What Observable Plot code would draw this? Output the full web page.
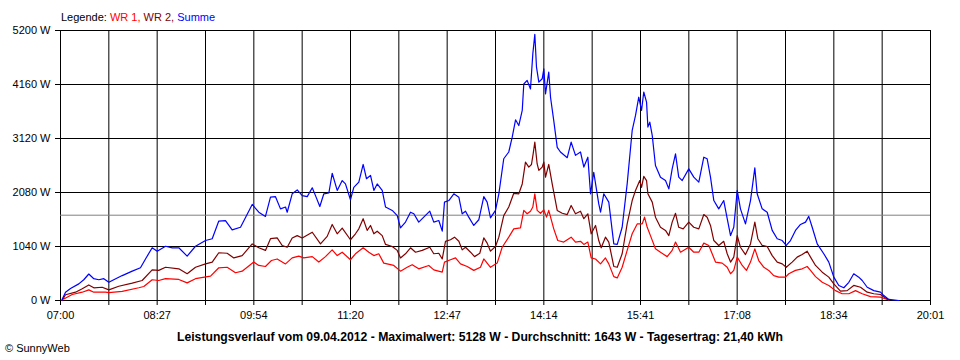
<!DOCTYPE html>
<html>
<head>
<meta charset="utf-8">
<script src="https://cdn.jsdelivr.net/npm/d3@7"></script>
<script src="https://cdn.jsdelivr.net/npm/@observablehq/plot@0.6"></script>
<style>
  body { margin: 0; background: #fff; font-family: "Liberation Sans", Arial, sans-serif; }
  #wrap { position: relative; width: 960px; height: 360px; overflow: hidden; background: #fff; }
  #chart svg { display: block; }
  .txt { position: absolute; font-size: 11px; white-space: nowrap; color: #000; line-height: normal; }
  #legend { left: 61px; top: 10.5px; }
  #caption { left: 0; width: 960px; top: 329.5px; text-align: center; font-weight: bold; font-size: 12.2px; }
  #copy { left: 5px; top: 342px; }
</style>
</head>
<body>
<div id="wrap">
  <div id="chart"></div>
  <div id="legend" class="txt">Legende: <span style="color:#ff0000">WR 1</span><span style="color:#ff0000">,</span> <span style="color:#800000">WR 2,</span> <span style="color:#0000ff">Summe</span></div>
  <div id="caption" class="txt">Leistungsverlauf vom 09.04.2012 - Maximalwert: 5128 W - Durchschnitt: 1643 W - Tagesertrag: 21,40 kWh</div>
  <div id="copy" class="txt">© SunnyWeb</div>
</div>
<script>
// ---- axis / tick data ----
const xTickLabels = ["07:00","08:27","09:54","11:20","12:47","14:14","15:41","17:08","18:34","20:01"];
const yTicks = [0, 1040, 2080, 3120, 4160, 5200];
const avgW = 1643;           // Durchschnitt
const spanMin = 781;         // 07:00 -> 20:01 in minutes
const gridCount = 18;        // vertical grid intervals (labels on every second)

// ---- series: minutes after 07:00, watts ----
const summeMin = [1,4.5,9,16.4,20.9,25.4,29.9,34.4,38.9,43.4,47.8,55.4,64.4,71.8,76.3,82.3,86.8,94.3,100.3,106.2,113.7,121.2,130.2,136.2,142.1,148.1,154.1,161.6,172.1,178,184,188.5,193,197.5,202,203.5,208,212.5,217,221.5,226,228.9,232.8,236.4,240.9,243.9,248.4,252.9,255.8,260.3,263.3,267.8,271.7,274.7,278.3,281.3,284.3,288.8,291.8,297.8,302.3,305.2,309.7,314.2,317.2,321.6,326.1,331.5,335.1,339.6,342.7,344.7,348.6,353.1,357.6,360.6,363.6,366.5,371,375.5,380,383,386,390.5,393.5,397.9,402.4,405.5,408.5,411.4,414.5,415.9,418.9,421.9,424,425.8,427.3,429.4,432.4,433.9,435.4,438.3,439.9,442.8,445.9,448.8,454.9,458.4,462.3,466.8,469.8,473.4,475.8,478.7,483.2,484.8,487.7,492.2,496.7,499.8,504.2,508.7,513.2,516.2,519.1,521.6,523.6,526.1,527.3,529,531.2,534.1,538.6,543.1,546.1,549.1,552.1,555,558.1,564,568.5,573,577.5,580.5,583.5,586.5,590.9,595.4,598.5,601.5,604.4,607.5,610.4,614.9,619.4,623.3,625.4,629.9,634.4,638.9,643.4,647.9,651.5,655.3,659.8,664.3,668.8,671.7,674.8,679.3,685.2,689.7,694.2,698.7,703.2,707.7,712.1,716.6,719.7,724.2,730.1,736.1,739.1,743.6,752.5];
const summeW = [0,160,230,320,400,510,420,400,420,350,400,480,565,630,800,1015,950,1045,1015,1015,855,1045,1155,1190,1530,1540,1360,1410,1850,1700,1620,1990,2000,1765,1800,1700,2055,2130,2020,2000,2170,2020,1810,2055,2070,2450,2120,2310,2245,1940,2180,2280,2620,2345,2410,2120,2245,2120,1800,1735,1635,1400,1510,1700,1670,1510,1605,1720,1510,1540,1335,1895,1925,2055,1990,1670,1720,1605,1445,1555,2000,1895,1590,1735,2055,2730,2860,3145,3480,3370,3660,4170,4240,4075,4750,5128,4495,4205,4270,4460,3980,4400,3915,3465,2950,2860,2750,3050,2795,2860,2570,2760,2055,2470,1860,1700,2055,1895,1090,1080,1410,2245,3275,3565,3915,3660,4015,3820,3340,3435,3180,2600,2375,2310,2150,2535,2825,2375,2310,2535,2375,2280,2760,2730,2375,1925,1765,1925,1575,1250,1410,2120,1765,1475,1925,2555,2055,1765,1700,1350,1190,1155,1060,1155,1350,1465,1510,1620,1410,1090,900,740,450,290,245,350,515,450,385,255,190,160,95,20,0];

const wr2Min = [1.5,4.5,13.5,19.5,25.4,29.9,37.4,43.4,52.3,64.4,73.3,82.3,88.2,94.3,106.2,113.7,121.2,130.2,136.2,142.1,149.6,155.6,163.1,172.1,178,184,188.5,194.5,199,203.5,208,212.5,217,226,233.4,239.4,243.9,248.4,252.9,260.3,264.8,267.8,271.7,275.3,278.3,281.3,284.3,288.8,291.8,297.8,302.3,305.2,309.7,314.2,318.7,324.7,331.5,335.1,339.6,342.7,345.6,350.1,353.7,357.6,360.6,363.6,368.1,371.7,376.4,380,383,386,390.5,393.5,397.9,402.4,406.9,411.4,414.5,417.4,420.4,422.8,424.3,425.8,427.9,429.4,432.4,433.9,435.4,438.3,441.4,445.9,450.4,454.9,458.4,462.3,466.8,469.8,473.4,476.4,480.3,483.2,485.4,489.2,492.2,496.7,499.8,504.2,508.7,513.2,516.2,520,521.6,523.6,526.1,527.3,531.2,534.1,538.6,543.1,546.1,549.1,552.1,555,559,564,568.5,573,577.5,580.5,583.5,586.5,590.9,595.4,598.5,601.5,604.4,607.5,610.4,614.9,619.4,623.3,626,629.9,634.4,638.9,643.4,647.9,651.5,656.8,661.3,665.8,670.3,673.3,677.8,683.8,689.7,694.2,700.2,706.2,712.1,718.2,724.2,730.1,736.1,740.6,743.6];
const wr2W = [0,110,160,225,300,245,255,205,275,335,385,590,580,640,610,515,640,705,740,920,910,820,865,1090,1015,965,1190,1205,1060,1025,1205,1250,1205,1315,1090,1235,1465,1285,1395,1170,1285,1380,1575,1350,1445,1285,1335,1250,1080,1040,965,820,900,1015,930,965,1025,900,910,800,1140,1170,1220,1140,975,1025,930,845,910,1205,1105,950,1040,1220,1635,1800,2065,2055,2245,2665,2570,2620,2825,3050,2630,2505,2570,2665,2375,2620,2245,1735,1680,1655,1830,1670,1720,1575,1670,1285,1445,1155,1015,1220,1125,655,640,900,1475,1925,2120,2310,2180,2390,2310,2055,1895,1605,1410,1350,1250,1510,1680,1410,1380,1510,1410,1380,1655,1605,1445,1155,1060,1140,900,740,835,1250,1025,885,1090,1510,1190,1060,1040,865,740,705,640,740,835,885,950,835,675,545,450,320,180,190,290,255,160,130,115,50,10];

const wr1Min = [3,10.5,19.5,25.4,29.9,40.4,43.4,55.4,70.3,74.8,82.3,88.2,94.3,106.2,113.7,121.2,134.7,142.1,149.6,157.1,163.1,173.5,178,184,189.4,194.5,202,208,213.9,218.4,226,231.9,237.9,243.9,248.4,252.9,260.3,264.8,271.7,276.8,281.3,285.7,290.2,299.2,305.2,311.2,315.7,321.6,330.6,335.1,342.7,344.7,350.1,354.6,359.1,365.1,371,377,380,386,392,396.5,402.4,406.9,412.9,415.9,418.9,421.9,424,425.8,427.9,430.9,433.9,436.3,438.3,442.8,446.4,451.8,458.4,462.3,466.8,469.8,473.4,476.4,480.3,484.8,489.2,492.2,496.7,499.8,504.2,508.7,513.2,517.7,522.2,524.3,526.7,529.6,534.1,538.6,544.6,549.1,552.1,556.6,564,568.5,573,577.5,582,585,588,594,598.5,601.5,604.4,607.5,612,615.8,619.4,623.3,626.8,631.4,635.8,640.3,644.8,650.8,653.8,659.8,665.8,670.3,673.3,677.8,683.8,689.7,695.7,701.7,707.7,713.7,719.7,727.1,736.1,743.6];
const wr1W = [30,115,160,205,160,160,150,175,245,270,400,385,420,405,340,420,470,630,640,535,565,740,675,655,770,800,705,820,855,820,845,740,845,975,865,930,785,900,1015,930,865,900,720,675,565,640,690,610,675,590,545,740,785,820,705,655,580,640,800,640,720,1025,1220,1380,1400,1735,1670,1720,1800,2055,1735,1680,1745,1605,1735,1380,1155,1125,1220,1125,1140,1080,1125,820,800,705,820,705,460,435,640,965,1285,1475,1475,1605,1410,1250,995,930,845,965,1125,930,1025,930,930,1105,1060,900,740,720,640,515,580,835,675,580,740,995,770,640,580,480,450,450,515,580,610,655,580,460,350,290,190,130,130,190,130,75,65,10];

const seriesColors = { wr1: "#ff0000", wr2: "#800000", summe: "#0000ff" };

// ---- build ----
const rows = (mins, ws) => mins.map((m, i) => ({ m, w: ws[i] }));
const gridMin = d3.range(gridCount + 1).map(i => i * spanMin / gridCount);
const xLabel = d => {
  const i = Math.round(d * gridCount / spanMin);
  return i % 2 === 0 ? xTickLabels[i / 2] : "";
};

const chart = Plot.plot({
  width: 960,
  height: 360,
  marginLeft: 60,
  marginRight: 30,
  marginTop: 30,
  marginBottom: 60,
  style: { fontFamily: '"Liberation Sans", Arial, sans-serif', fontSize: "11px", color: "#000", background: "transparent" },
  x: { domain: [0, spanMin] },
  y: { domain: [0, 5200] },
  marks: [
    Plot.ruleX(gridMin, { stroke: "#000", strokeWidth: 1 }),
    Plot.ruleY(yTicks, { stroke: "#000", strokeWidth: 1 }),
    Plot.ruleY([avgW], { stroke: "#808080", strokeWidth: 1 }),
    Plot.line(rows(wr1Min, wr1W), { x: "m", y: "w", stroke: seriesColors.wr1, strokeWidth: 1.2 }),
    Plot.line(rows(wr2Min, wr2W), { x: "m", y: "w", stroke: seriesColors.wr2, strokeWidth: 1.2 }),
    Plot.line(rows(summeMin, summeW), { x: "m", y: "w", stroke: seriesColors.summe, strokeWidth: 1.2 }),
    Plot.axisX({ ticks: gridMin, tickSize: 5, tickPadding: 6, tickFormat: xLabel, label: null, stroke: "#000", fill: "#000" }),
    Plot.axisY({ ticks: yTicks, tickSize: 5, tickPadding: 5, tickFormat: d => `${d} W`, label: null, stroke: "#000", fill: "#000" })
  ]
});
document.getElementById("chart").appendChild(chart);
</script>
</body>
</html>
